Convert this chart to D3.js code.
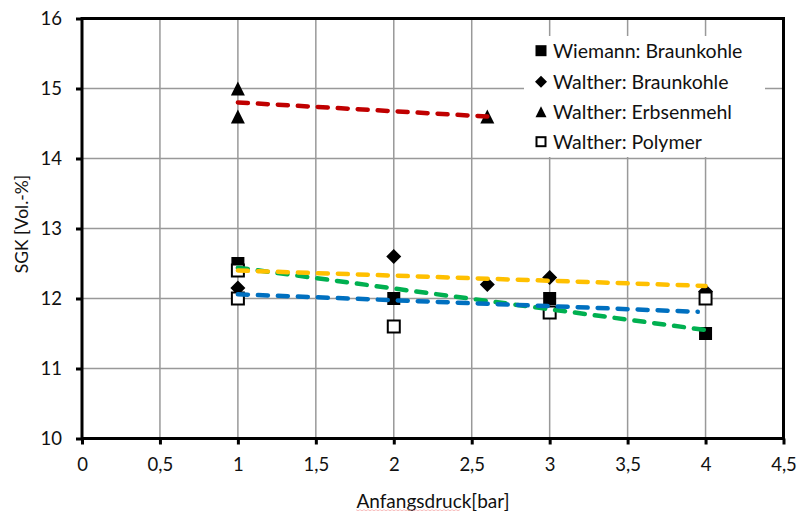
<!DOCTYPE html>
<html>
<head>
<meta charset="utf-8">
<script src="https://cdn.jsdelivr.net/npm/d3@7"></script>
<style>
    * { margin: 0; padding: 0; }
    body { background: #fff; width: 798px; height: 511px; overflow: hidden; }
    svg { display: block; font-family: Lato, "Open Sans", sans-serif; }
    .grid line { stroke: #999; stroke-width: 1.5px; }
    .tick-label { fill: #111; font-size: 18.5px; }
    .axis-title { fill: #111; }
    .legend text { fill: #111; font-size: 19.5px; }
</style>
</head>
<body>
<svg id="chart" width="798" height="511"></svg>
<script>
// tick labels (German decimal comma)
const xTicks = [0, 0.5, 1, 1.5, 2, 2.5, 3, 3.5, 4, 4.5];
const yTicks = [10, 11, 12, 13, 14, 15, 16];

const wiemannBraunkohle = [[1, 12.5], [2, 12.0], [3, 12.0], [4, 11.5]];
const waltherBraunkohle = [[1, 12.15], [2, 12.6], [2.6, 12.2], [3, 12.3], [4, 12.1]];
const waltherErbsenmehl = [[1, 15.0], [1, 14.6], [2.6, 14.6]];
const waltherPolymer = [[1, 12.4], [1, 12.0], [2, 11.6], [3, 11.8], [4, 12.0]];

// trend line end points (x, y) per series
const trendWiemann = [[1, 12.44], [4, 11.55]];
const trendBraunkohle = [[1, 12.40], [4, 12.18]];
const trendErbsenmehl = [[1, 14.80], [2.6, 14.60]];
const trendPolymer = [[1, 12.06], [3.95, 11.81]];

const seriesNames = ['Wiemann: Braunkohle', 'Walther: Braunkohle', 'Walther: Erbsenmehl', 'Walther: Polymer'];

const svg = d3.select('#chart');

const x = d3.scaleLinear().domain([0, 4.5]).range([82, 783.5]);
const y = d3.scaleLinear().domain([10, 16]).range([438.5, 18.5]);

// grid
const grid = svg.append('g').attr('class', 'grid');
grid.selectAll('.vx').data(xTicks.slice(1, -1)).enter().append('line')
    .attr('x1', d => x(d)).attr('x2', d => x(d))
    .attr('y1', y(10)).attr('y2', y(16));
grid.selectAll('.hy').data(yTicks.slice(1, -1)).enter().append('line')
    .attr('x1', x(0)).attr('x2', x(4.5))
    .attr('y1', d => y(d)).attr('y2', d => y(d));

// axes: only the tick marks and labels, the frame is drawn separately
const fmt = d => String(d).replace('.', ',');

const xAxis = svg.append('g')
    .attr('transform', `translate(0,${y(10)})`)
    .call(d3.axisBottom(x).tickValues(xTicks).tickSize(6).tickPadding(9).tickFormat(fmt));
const yAxis = svg.append('g')
    .attr('transform', `translate(${x(0)},0)`)
    .call(d3.axisLeft(y).tickValues(yTicks).tickSize(6).tickPadding(14).tickFormat(d => d));

[xAxis, yAxis].forEach(a => {
    a.select('.domain').remove();
    a.selectAll('.tick line').attr('stroke', '#000').attr('stroke-width', 3);
    a.selectAll('.tick text').attr('class', 'tick-label');
    a.attr('font-family', null).attr('font-size', null);
});
xAxis.selectAll('.tick text').attr('dy', '0.95em');

// plot frame
svg.append('rect')
    .attr('x', x(0)).attr('y', y(16))
    .attr('width', x(4.5) - x(0)).attr('height', y(10) - y(16))
    .attr('fill', 'none').attr('stroke', '#000').attr('stroke-width', 3);

// marker shapes
const markers = {
    square: (g, s) => g.append('rect').attr('x', -s / 2).attr('y', -s / 2).attr('width', s).attr('height', s).attr('fill', '#000'),
    diamond: (g, s) => g.append('path').attr('d', `M0,${-s / 2}L${s / 2},0L0,${s / 2}L${-s / 2},0Z`).attr('fill', '#000'),
    triangle: (g, s) => g.append('path').attr('d', `M0,${-s / 2}L${s / 2},${s / 2}L${-s / 2},${s / 2}Z`).attr('fill', '#000'),
    open: (g, s) => g.append('rect').attr('x', -s / 2 + 1).attr('y', -s / 2 + 1).attr('width', s - 2).attr('height', s - 2)
        .attr('fill', '#fff').attr('stroke', '#000').attr('stroke-width', 2),
};

const series = [
    { data: wiemannBraunkohle, marker: 'square', trend: trendWiemann, color: '#00b050' },
    { data: waltherBraunkohle, marker: 'diamond', trend: trendBraunkohle, color: '#ffc000' },
    { data: waltherErbsenmehl, marker: 'triangle', trend: trendErbsenmehl, color: '#c00000' },
    { data: waltherPolymer, marker: 'open', trend: trendPolymer, color: '#0070c0' },
];

const sizes = { square: 13, diamond: 15, triangle: 14, open: 14 };

series.forEach(s => {
    const g = svg.append('g');
    s.data.forEach(p => {
        const m = g.append('g').attr('transform', `translate(${x(p[0])},${y(p[1])})`);
        markers[s.marker](m, sizes[s.marker]);
    });
});

// trend lines on top of the markers
const line = d3.line().x(d => x(d[0])).y(d => y(d[1]));
series.forEach(s => {
    svg.append('path')
        .attr('d', line(s.trend))
        .attr('fill', 'none')
        .attr('stroke', s.color)
        .attr('stroke-width', 4.5)
        .attr('stroke-linecap', 'round')
        .attr('stroke-dasharray', '10,10');
});

// legend
const legend = svg.append('g').attr('class', 'legend');
legend.append('rect')
    .attr('x', 524).attr('y', 36).attr('width', 241).attr('height', 121)
    .attr('fill', '#fff');
const rowY = [50.7, 81.7, 111.7, 141.7];
series.forEach((s, i) => {
    const m = legend.append('g').attr('transform', `translate(541,${rowY[i]})`);
    markers[s.marker](m, s.marker === 'diamond' ? 12 : 11);
    legend.append('text')
        .attr('x', 553).attr('y', rowY[i])
        .attr('dy', '0.36em')
        .text(seriesNames[i]);
});

// axis titles
svg.append('text')
    .attr('class', 'axis-title')
    .attr('x', 433).attr('y', 501)
    .attr('text-anchor', 'middle')
    .attr('dy', '0.36em')
    .attr('font-size', 19)
    .text('Anfangsdruck[bar]');

svg.append('text')
    .attr('class', 'axis-title')
    .attr('transform', 'translate(22,224) rotate(-90)')
    .attr('text-anchor', 'middle')
    .attr('dy', '0.36em')
    .attr('font-size', 17.5)
    .text('SGK [Vol.-%]');

// faint spell-check squiggle under the title word
const sq = d3.range(356, 462, 2).map((px, i) => [px, 510 + (i % 2 ? 0.8 : -0.4)]);
svg.append('path')
    .attr('d', d3.line()(sq))
    .attr('fill', 'none')
    .attr('stroke', '#f5a5a5')
    .attr('stroke-width', 0.7);
</script>
</body>
</html>
